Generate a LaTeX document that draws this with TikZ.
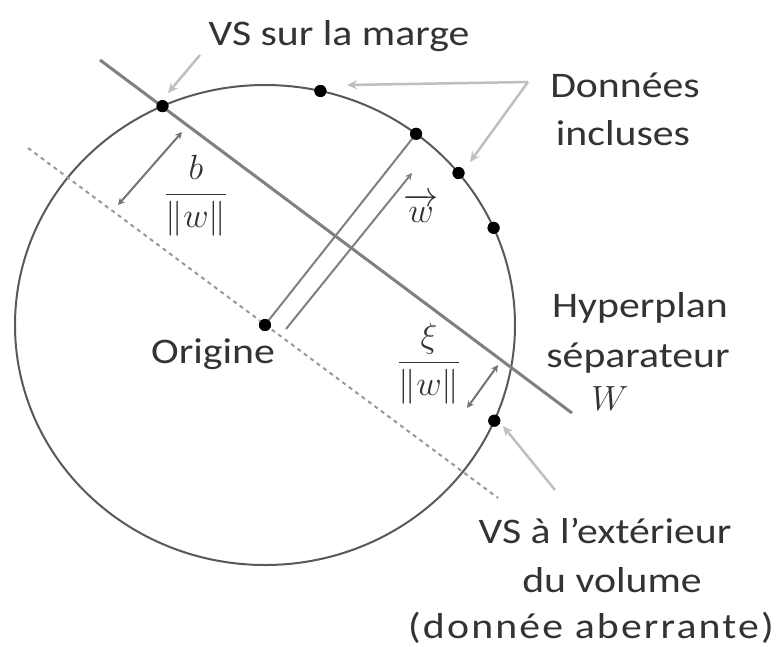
\documentclass[tikz,border=0pt]{standalone}
\usepackage{fix-cm}
\usepackage{amsmath}
\usepackage{fontspec}
\setmainfont{Carlito}[FakeStretch=1.16]
\usetikzlibrary{arrows.meta}
\begin{document}
\begin{tikzpicture}[x=1pt,y=-1pt,
  txt/.style={inner sep=0pt,anchor=base,text=black!80,font=\fontsize{36}{44}\selectfont},
  mtxt/.style={inner sep=0pt,anchor=base,text=black!80,font=\fontsize{35}{40}\selectfont},
  dot/.style={circle,fill=black,inner sep=0pt,minimum size=12pt},
  ell/.style={draw=black!65,line width=2pt},
  hyp/.style={draw=black!50,line width=3pt},
  wline/.style={draw=black!50,line width=2pt},
  dotline/.style={draw=black!40,line width=2pt,dash pattern=on 4pt off 4pt},
  dim/.style={draw=black!55,line width=2pt,{Stealth[length=7pt,width=7pt]}-{Stealth[length=7pt,width=7pt]}},
  wvec/.style={draw=black!50,line width=2pt,-{Stealth[length=7pt,width=7pt]}},
  ptr/.style={draw=black!25,line width=2.5pt,-{Stealth[length=10pt,width=9pt]}}
]
\useasboundingbox (0,0) rectangle (777,646);
\fill[white] (0,0) rectangle (777,646);

% enclosing volume
\draw[ell] (265,325) ellipse [x radius=250, y radius=240];

% coordinates
\coordinate (hA) at (100,60);
\coordinate (hB) at (572,413);
\coordinate (dA) at (28,148);
\coordinate (dB) at (498,498);
\coordinate (wA) at (286,329);
\coordinate (wB) at (412,173);
\coordinate (bA) at (118,205);
\coordinate (bB) at (182,132);
\coordinate (xA) at (498,365);
\coordinate (xB) at (467,408);
\coordinate (pM1) at (200,55);
\coordinate (pM2) at (168,93);
\coordinate (pD) at (528,82);
\coordinate (pD1) at (347,85);
\coordinate (pD2) at (470,162);
\coordinate (pE1) at (555,490);
\coordinate (pE2) at (503,426);

% points
\node[dot] (o) at (265,325) {};
\node[dot] (d1) at (162.5,106.1) {};
\node[dot] (d2) at (320.4,91.0) {};
\node[dot] (d3) at (416.1,133.8) {};
\node[dot] (d4) at (458.5,173.0) {};
\node[dot] (d5) at (493.6,227.8) {};
\node[dot] (d6) at (494.3,420.7) {};

% lines
\draw[dotline] (dA) -- (dB);
\draw[hyp] (hA) -- (hB);
\draw[wline] (o.center) -- (d3.center);
\draw[wvec] (wA) -- (wB);
\draw[dim] (bA) -- (bB);
\draw[dim] (xA) -- (xB);

% pointers
\draw[ptr] (pM1) -- (pM2);
\draw[ptr] (pD) -- (pD1);
\draw[ptr] (pD) -- (pD2);
\draw[ptr] (pE1) -- (pE2);

% redraw dots on top
\foreach \n in {o,d1,d2,d3,d4,d5,d6} \fill (\n) circle (6);

% texts
\node[txt] (tMarge) at (339,45) {VS sur la marge};
\node[txt] (tDon1) at (625,97) {Données};
\node[txt] (tDon2) at (623,145) {incluses};
\node[txt] (tHyp1) at (640,317) {Hyperplan};
\node[txt] (tHyp2) at (638,367) {séparateur};
\node[mtxt] (tHyp3) at (610,410) {$W$};
\node[txt] (tExt1) at (605,543) {VS à l’extérieur};
\node[txt] (tExt2) at (612,592) {du volume};
\node[txt] (tExt3) at (591,638) {\addfontfeature{LetterSpace=6}(donnée aberrante)};
\node[txt] (tOri) at (213,363) {Origine};
\node[mtxt] (tb) at (196,203) {$\dfrac{b}{\|w\|}$};
\node[mtxt] (txi) at (429,371) {$\dfrac{\xi}{\|w\|}$};
\node[mtxt] (tw) at (421,222) {$\overrightarrow{w}$};
\end{tikzpicture}
\end{document}
